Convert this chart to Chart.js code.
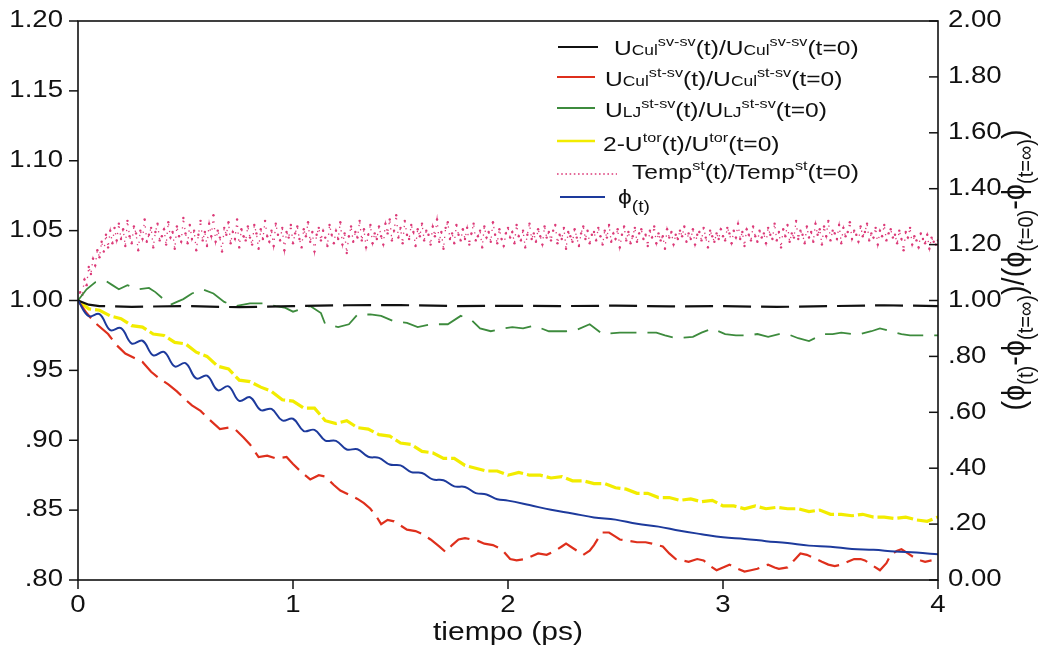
<!DOCTYPE html>
<html>
<head>
<meta charset="utf-8">
<script src="https://cdn.jsdelivr.net/npm/chart.js@4.4.1/dist/chart.umd.min.js"></script>
<style>
  html, body { margin: 0; padding: 0; background: #fff; }
  canvas { display: block; }
</style>
</head>
<body>
<canvas id="c" width="1050" height="651"></canvas>
<script>
// ---- Axis ticks -----------------------------------------------------------
const xTicks = [0, 1, 2, 3, 4];
const xTickLabels = ['0', '1', '2', '3', '4'];
const leftTicks = [1.20, 1.15, 1.10, 1.05, 1.00, 0.95, 0.90, 0.85, 0.80];
const leftTickLabels = ['1.20', '1.15', '1.10', '1.05', '1.00', '.95', '.90', '.85', '.80'];
const rightTicks = [2.00, 1.80, 1.60, 1.40, 1.20, 1.00, 0.80, 0.60, 0.40, 0.20, 0.00];
const rightTickLabels = ['2.00', '1.80', '1.60', '1.40', '1.20', '1.00', '.80', '.60', '.40', '.20', '0.00'];

// ---- U_Cul sv-sv (black) ----------------------------------------------------
const culSvSvT = [0, 0.05, 0.10, 0.25, 0.50, 0.75, 1.00, 1.25, 1.50, 1.75, 2.00, 2.25, 2.50, 2.75, 3.00, 3.25, 3.50, 3.75, 4.00];
const culSvSvV = [1.000, 0.997, 0.996, 0.9955, 0.996, 0.9952, 0.996, 0.9966, 0.9967, 0.996, 0.9962, 0.996, 0.9963, 0.9958, 0.996, 0.9954, 0.996, 0.9966, 0.996];

// ---- U_Cul st-sv (red) ------------------------------------------------------
const culStSvT = [0.00, 0.04, 0.08, 0.14, 0.18, 0.22, 0.26, 0.30, 0.34, 0.38, 0.42, 0.46, 0.50, 0.53, 0.57, 0.61, 0.66, 0.70, 0.73, 0.77,
  0.80, 0.84, 0.88, 0.92, 0.97, 1.00, 1.04, 1.08, 1.12, 1.15, 1.19, 1.22, 1.26, 1.30, 1.33, 1.36, 1.39, 1.41, 1.44, 1.47,
  1.50, 1.53, 1.57, 1.60, 1.64, 1.68, 1.71, 1.74, 1.77, 1.80, 1.83, 1.86, 1.89, 1.93, 1.97, 2.01, 2.04, 2.08, 2.11, 2.14,
  2.18, 2.22, 2.25, 2.27, 2.31, 2.35, 2.38, 2.40, 2.42, 2.44, 2.47, 2.50, 2.52, 2.56, 2.60, 2.64, 2.67, 2.72, 2.75, 2.78,
  2.81, 2.84, 2.88, 2.91, 2.94, 2.97, 3.00, 3.03, 3.07, 3.10, 3.13, 3.16, 3.19, 3.21, 3.24, 3.26, 3.30, 3.33, 3.36, 3.39,
  3.42, 3.46, 3.49, 3.52, 3.55, 3.58, 3.61, 3.64, 3.66, 3.70, 3.73, 3.76, 3.78, 3.81, 3.83, 3.86, 3.89, 3.92, 3.94, 3.97];
const culStSvV = [1.000, 0.991, 0.984, 0.976, 0.968, 0.962, 0.959, 0.956, 0.949, 0.944, 0.940, 0.935, 0.929, 0.925, 0.921, 0.915, 0.908, 0.909, 0.908, 0.902,
  0.897, 0.888, 0.889, 0.887, 0.888, 0.883, 0.877, 0.872, 0.875, 0.874, 0.868, 0.864, 0.861, 0.858, 0.855, 0.851, 0.845, 0.840, 0.843, 0.842,
  0.839, 0.836, 0.835, 0.833, 0.829, 0.824, 0.820, 0.825, 0.829, 0.830, 0.829, 0.828, 0.826, 0.825, 0.822, 0.815, 0.814, 0.815, 0.817, 0.819,
  0.818, 0.821, 0.824, 0.826, 0.822, 0.818, 0.821, 0.825, 0.830, 0.834, 0.834, 0.831, 0.829, 0.828, 0.827, 0.827, 0.826, 0.824, 0.819, 0.815,
  0.814, 0.813, 0.815, 0.814, 0.810, 0.807, 0.809, 0.811, 0.808, 0.806, 0.807, 0.808, 0.810, 0.811, 0.809, 0.808, 0.809, 0.814, 0.819, 0.818,
  0.816, 0.813, 0.811, 0.810, 0.811, 0.813, 0.815, 0.815, 0.814, 0.810, 0.807, 0.812, 0.818, 0.821, 0.822, 0.819, 0.816, 0.814, 0.813, 0.814];

// ---- U_LJ st-sv (green) -----------------------------------------------------
const ljStSvT = [0.00, 0.04, 0.08, 0.13, 0.16, 0.19, 0.23, 0.28, 0.33, 0.36, 0.39, 0.43, 0.46, 0.49, 0.53, 0.58, 0.63, 0.68, 0.73, 0.80,
  0.86, 0.92, 0.96, 1.00, 1.04, 1.08, 1.13, 1.15, 1.21, 1.26, 1.30, 1.36, 1.41, 1.47, 1.53, 1.58, 1.64, 1.72, 1.78, 1.83,
  1.87, 1.92, 1.98, 2.02, 2.07, 2.12, 2.19, 2.27, 2.32, 2.38, 2.44, 2.52, 2.61, 2.69, 2.73, 2.78, 2.86, 2.90, 2.95, 3.01,
  3.06, 3.12, 3.16, 3.21, 3.26, 3.30, 3.35, 3.40, 3.44, 3.47, 3.51, 3.55, 3.60, 3.64, 3.69, 3.73, 3.78, 3.83, 3.87, 3.91, 3.96, 4.00];
const ljStSvV = [1.000, 1.008, 1.013, 1.014, 1.011, 1.008, 1.011, 1.008, 1.009, 1.006, 1.002, 0.997, 0.999, 1.001, 1.005, 1.008, 1.005, 0.999, 0.996, 0.998,
  0.998, 0.996, 0.995, 0.992, 0.994, 0.996, 0.991, 0.983, 0.981, 0.983, 0.990, 0.990, 0.989, 0.985, 0.984, 0.981, 0.983, 0.983, 0.989, 0.986,
  0.980, 0.978, 0.980, 0.981, 0.980, 0.982, 0.978, 0.978, 0.979, 0.983, 0.976, 0.977, 0.977, 0.977, 0.975, 0.973, 0.974, 0.977, 0.980, 0.976,
  0.975, 0.975, 0.976, 0.974, 0.976, 0.976, 0.973, 0.971, 0.974, 0.976, 0.976, 0.977, 0.976, 0.976, 0.978, 0.980, 0.978, 0.976, 0.975, 0.975, 0.975, 0.975];

// ---- 2 - U_tor (yellow), sampled every 0.05 ps -------------------------------
const torStep = 0.05;
const torV = [1.000, 0.994, 0.993, 0.989, 0.987, 0.982, 0.981, 0.976, 0.975, 0.970, 0.969, 0.963, 0.960, 0.953, 0.951, 0.943, 0.942, 0.938, 0.935, 0.929,
  0.928, 0.923, 0.923, 0.914, 0.912, 0.914, 0.909, 0.908, 0.904, 0.903, 0.898, 0.897, 0.892, 0.891, 0.887, 0.887, 0.882, 0.880, 0.878, 0.878,
  0.875, 0.877, 0.875, 0.875, 0.873, 0.874, 0.871, 0.871, 0.869, 0.869, 0.866, 0.865, 0.862, 0.862, 0.859, 0.859, 0.857, 0.858, 0.856, 0.857,
  0.853, 0.853, 0.851, 0.853, 0.851, 0.852, 0.851, 0.851, 0.849, 0.850, 0.847, 0.847, 0.846, 0.847, 0.845, 0.845, 0.844, 0.845, 0.843, 0.842, 0.845];

// ---- Temp st (pink dots), sampled every 0.01 ps -----------------------------
const tempStep = 0.01;
const tempV = [
  1.000, 1.006, 1.004, 1.015, 1.011, 1.024, 1.019, 1.030, 1.025, 1.036, 1.031, 1.042, 1.035, 1.047, 1.038, 1.050, 1.041, 1.052, 1.043, 1.055,
  1.044, 1.051, 1.039, 1.057, 1.046, 1.041, 1.053, 1.048, 1.036, 1.050, 1.044, 1.058, 1.042, 1.047, 1.052, 1.038, 1.049, 1.055, 1.043, 1.046,
  1.051, 1.040, 1.056, 1.045, 1.049, 1.037, 1.053, 1.046, 1.042, 1.059, 1.048, 1.041, 1.054, 1.044, 1.050, 1.036, 1.047, 1.057, 1.043, 1.049,
  1.039, 1.055, 1.046, 1.061, 1.042, 1.050, 1.045, 1.035, 1.052, 1.047, 1.056, 1.041, 1.049, 1.044, 1.058, 1.038, 1.051, 1.046, 1.043, 1.053,
  1.045, 1.040, 1.054, 1.048, 1.037, 1.051, 1.044, 1.057, 1.046, 1.042, 1.050, 1.039, 1.055, 1.047, 1.043, 1.052, 1.036, 1.049, 1.045, 1.054,
  1.041, 1.048, 1.053, 1.044, 1.038, 1.051, 1.046, 1.056, 1.042, 1.049, 1.035, 1.047, 1.052, 1.043, 1.050, 1.045, 1.039, 1.054, 1.047, 1.041,
  1.050, 1.044, 1.056, 1.040, 1.048, 1.034, 1.046, 1.053, 1.042, 1.049, 1.045, 1.057, 1.043, 1.051, 1.038, 1.047, 1.054, 1.041, 1.048, 1.044,
  1.053, 1.046, 1.040, 1.055, 1.048, 1.058, 1.043, 1.050, 1.061, 1.045, 1.052, 1.041, 1.057, 1.047, 1.044, 1.054, 1.049, 1.039, 1.051, 1.046,
  1.055, 1.043, 1.050, 1.047, 1.040, 1.053, 1.046, 1.058, 1.042, 1.049, 1.037, 1.052, 1.056, 1.044, 1.048, 1.041, 1.054, 1.047, 1.043, 1.051,
  1.044, 1.052, 1.040, 1.048, 1.055, 1.043, 1.046, 1.050, 1.038, 1.053, 1.045, 1.049, 1.042, 1.056, 1.047, 1.041, 1.051, 1.044, 1.039, 1.048,
  1.052, 1.045, 1.049, 1.041, 1.054, 1.046, 1.043, 1.050, 1.038, 1.047, 1.055, 1.044, 1.048, 1.042, 1.051, 1.046, 1.040, 1.053, 1.045, 1.049,
  1.043, 1.050, 1.054, 1.041, 1.047, 1.044, 1.052, 1.037, 1.049, 1.046, 1.042, 1.051, 1.045, 1.039, 1.048, 1.053, 1.044, 1.050, 1.041, 1.047,
  1.049, 1.043, 1.052, 1.046, 1.040, 1.050, 1.045, 1.054, 1.042, 1.048, 1.044, 1.051, 1.038, 1.047, 1.053, 1.043, 1.049, 1.041, 1.046, 1.052,
  1.042, 1.048, 1.051, 1.044, 1.047, 1.039, 1.050, 1.045, 1.053, 1.041, 1.048, 1.043, 1.046, 1.037, 1.051, 1.045, 1.049, 1.040, 1.047, 1.044,
  1.050, 1.046, 1.053, 1.042, 1.048, 1.044, 1.051, 1.040, 1.047, 1.049, 1.043, 1.052, 1.045, 1.038, 1.050, 1.046, 1.042, 1.048, 1.044, 1.051,
  1.046, 1.043, 1.052, 1.048, 1.041, 1.050, 1.045, 1.055, 1.044, 1.049, 1.039, 1.051, 1.047, 1.043, 1.053, 1.046, 1.042, 1.050, 1.045, 1.048,
  1.041, 1.052, 1.047, 1.044, 1.055, 1.043, 1.049, 1.038, 1.051, 1.046, 1.054, 1.042, 1.048, 1.045, 1.057, 1.044, 1.050, 1.047, 1.041, 1.053,
  1.045, 1.049, 1.042, 1.055, 1.047, 1.051, 1.040, 1.053, 1.046, 1.057, 1.043, 1.050, 1.048, 1.044, 1.054, 1.041, 1.052, 1.046, 1.049, 1.056,
  1.044, 1.050, 1.047, 1.042, 1.053, 1.046, 1.049, 1.055, 1.043, 1.048, 1.045, 1.052, 1.040, 1.050, 1.046, 1.054, 1.043, 1.048, 1.051, 1.045,
  1.047, 1.041, 1.050, 1.044, 1.036, 1.049, 1.045, 1.052, 1.040, 1.046, 1.043, 1.038, 1.048, 1.044, 1.041, 1.047, 1.037, 1.045, 1.042, 1.040,
  1.043];

// ---- phi(t) normalised (blue, right axis) ------------------------------------
const phiT = [0.00, 0.05, 0.10, 0.15, 0.20, 0.25, 0.30, 0.35, 0.40, 0.45, 0.50, 0.55, 0.60, 0.65, 0.70, 0.75, 0.80, 0.85, 0.90, 0.95,
  1.00, 1.05, 1.10, 1.15, 1.20, 1.25, 1.30, 1.35, 1.40, 1.45, 1.50, 1.55, 1.60, 1.65, 1.70, 1.75, 1.80, 1.85, 1.90, 1.95,
  2.00, 2.10, 2.20, 2.30, 2.40, 2.50, 2.60, 2.70, 2.80, 2.90, 3.00, 3.10, 3.20, 3.30, 3.40, 3.50, 3.60, 3.70, 3.80, 3.90, 4.00];
const phiV = [1.000, 0.944, 0.951, 0.894, 0.901, 0.846, 0.856, 0.804, 0.816, 0.764, 0.776, 0.721, 0.731, 0.679, 0.693, 0.641, 0.654, 0.608, 0.612, 0.571,
  0.577, 0.533, 0.537, 0.499, 0.498, 0.467, 0.468, 0.441, 0.437, 0.413, 0.410, 0.386, 0.383, 0.360, 0.357, 0.335, 0.333, 0.311, 0.306, 0.289,
  0.284, 0.268, 0.251, 0.238, 0.224, 0.216, 0.201, 0.191, 0.176, 0.164, 0.153, 0.147, 0.139, 0.132, 0.123, 0.119, 0.111, 0.108, 0.102, 0.098, 0.092];

// ---- Helpers ----------------------------------------------------------------
const FONT = '"Liberation Sans", Arial, "DejaVu Sans", sans-serif';
const TEXT_STRETCH = 1.2;   // the lettering in this figure is drawn wide
const INK = '#111';

const onGrid = (values, step) => values.map((y, i) => ({ x: +(i * step).toFixed(3), y }));
const pairs = (ts, vs) => ts.map((x, i) => ({ x, y: vs[i] }));

const datasets = [
  { label: 'phi', data: pairs(phiT, phiV), yAxisID: 'y1',
    borderColor: '#1d3a9c', borderWidth: 2, tension: 0.4, pointRadius: 0 },
  { label: 'culSvSv', data: pairs(culSvSvT, culSvSvV), yAxisID: 'y',
    borderColor: '#111111', borderWidth: 2.2, borderDash: [28, 10], pointRadius: 0 },
  { label: 'culStSv', data: pairs(culStSvT, culStSvV), yAxisID: 'y',
    borderColor: '#de2f1c', borderWidth: 2.2, borderDash: [22, 8], pointRadius: 0 },
  { label: 'ljStSv', data: pairs(ljStSvT, ljStSvV), yAxisID: 'y',
    borderColor: '#3d8b3d', borderWidth: 1.8, borderDash: [26, 11], pointRadius: 0 },
  { label: 'tor', data: onGrid(torV, torStep), yAxisID: 'y',
    borderColor: '#f2ec00', borderWidth: 3.2, borderDash: [16, 4], pointRadius: 0 },
  { label: 'temp', data: onGrid(tempV, tempStep), yAxisID: 'y',
    borderColor: '#dc3a78', borderWidth: 1.3, borderDash: [1.3, 5.5],
    pointRadius: 1.2, pointBorderWidth: 0, pointBackgroundColor: '#dc3a78' }
];

// Rich text: segments of [text, kind]; n = normal, l = small on baseline,
// p = superscript, b = subscript
function richWidth(ctx, segs, sizes) {
  let w = 0;
  for (const [s, k] of segs) {
    ctx.font = sizes[k] + 'px ' + FONT;
    w += ctx.measureText(s).width;
  }
  return w;
}
function drawRich(ctx, segs, sizes, shifts) {
  let x = 0;
  for (const [s, k] of segs) {
    ctx.font = sizes[k] + 'px ' + FONT;
    ctx.fillText(s, x, shifts[k]);
    x += ctx.measureText(s).width;
  }
}
function drawWide(ctx, str, x, y, size, align) {
  ctx.save();
  ctx.font = size + 'px ' + FONT;
  const w = ctx.measureText(str).width * TEXT_STRETCH;
  const x0 = align === 'right' ? x - w : align === 'center' ? x - w / 2 : x;
  ctx.translate(x0, y);
  ctx.scale(TEXT_STRETCH, 1);
  ctx.textAlign = 'left';
  ctx.textBaseline = 'middle';
  ctx.fillStyle = INK;
  ctx.fillText(str, 0, 0);
  ctx.restore();
}

const legendRows = [
  { ds: 1, y: 47, x0: 558, x1: 598, tx: 614, base: 55,
    segs: [['U', 'n'], ['Cul', 'l'], ['sv-sv', 'p'], ['(t)/U', 'n'], ['Cul', 'l'], ['sv-sv', 'p'], ['(t=0)', 'n']] },
  { ds: 2, y: 77, x0: 557, x1: 595, tx: 605, base: 86,
    segs: [['U', 'n'], ['Cul', 'l'], ['st-sv', 'p'], ['(t)/U', 'n'], ['Cul', 'l'], ['st-sv', 'p'], ['(t=0)', 'n']] },
  { ds: 3, y: 108, x0: 557, x1: 595, tx: 605, base: 117,
    segs: [['U', 'n'], ['LJ', 'l'], ['st-sv', 'p'], ['(t)/U', 'n'], ['LJ', 'l'], ['st-sv', 'p'], ['(t=0)', 'n']] },
  { ds: 4, y: 141, x0: 557, x1: 595, tx: 603, base: 151,
    segs: [['2-U', 'n'], ['tor', 'p'], ['(t)/U', 'n'], ['tor', 'p'], ['(t=0)', 'n']] },
  { ds: 5, y: 174, x0: 557, x1: 617, tx: 632, base: 179,
    segs: [['Temp', 'n'], ['st', 'p'], ['(t)/Temp', 'n'], ['st', 'p'], ['(t=0)', 'n']] },
  { ds: 0, y: 197, x0: 560, x1: 605, tx: 618, base: 204,
    segs: [['\u03D5', 'n'], ['(t)', 'b']] }
];

const decorations = {
  id: 'decorations',
  afterDatasetsDraw(chart) {
    const { ctx, chartArea: a, scales } = chart;
    ctx.save();
    // frame
    ctx.strokeStyle = INK;
    ctx.lineWidth = 1.6;
    ctx.setLineDash([]);
    ctx.strokeRect(a.left, a.top, a.right - a.left, a.bottom - a.top);

    // left ticks (outward) + labels
    ctx.lineWidth = 1.5;
    leftTicks.forEach((v, i) => {
      const y = scales.y.getPixelForValue(v);
      ctx.beginPath(); ctx.moveTo(a.left - 9, y); ctx.lineTo(a.left, y); ctx.stroke();
      drawWide(ctx, leftTickLabels[i], a.left - 15, y, 23, 'right');
    });
    // right ticks (inward) + labels
    rightTicks.forEach((v, i) => {
      const y = scales.y1.getPixelForValue(v);
      ctx.beginPath(); ctx.moveTo(a.right - 9, y); ctx.lineTo(a.right, y); ctx.stroke();
      drawWide(ctx, rightTickLabels[i], a.right + 10, y, 23, 'left');
    });
    // bottom ticks (outward) + labels
    xTicks.forEach((v, i) => {
      const x = scales.x.getPixelForValue(v);
      ctx.beginPath(); ctx.moveTo(x, a.bottom); ctx.lineTo(x, a.bottom + 9); ctx.stroke();
      drawWide(ctx, xTickLabels[i], x, 606, 23, 'center');
    });
    drawWide(ctx, 'tiempo (ps)', (a.left + a.right) / 2, 633, 25, 'center');

    // right axis title
    const tSizes = { n: 29, b: 20 };
    const tShift = { n: 0, b: 8 };
    const tSegs = [['(\u03D5', 'n'], ['(t)', 'b'], ['-\u03D5', 'n'], ['(t=\u221E)', 'b'], [')/(\u03D5', 'n'],
      ['(t=0)', 'b'], ['-\u03D5', 'n'], ['(t=\u221E)', 'b'], [')', 'n']];
    const tw = richWidth(ctx, tSegs, tSizes);
    ctx.save();
    ctx.translate(1024, 270);
    ctx.rotate(-Math.PI / 2);
    ctx.scale(1, 1.1);
    ctx.translate(-tw / 2, 0);
    ctx.fillStyle = INK;
    ctx.textAlign = 'left';
    ctx.textBaseline = 'alphabetic';
    drawRich(ctx, tSegs, tSizes, tShift);
    ctx.restore();

    // legend
    const lSizes = { n: 20.5, l: 14.5, p: 13.5, b: 16 };
    const lShift = { n: 0, l: 0, p: -9, b: 8 };
    legendRows.forEach(r => {
      const d = chart.data.datasets[r.ds];
      ctx.save();
      ctx.strokeStyle = d.borderColor;
      ctx.lineWidth = r.ds === 5 ? 1.6 : Math.min(d.borderWidth, 2.4);
      ctx.setLineDash(r.ds === 5 ? [1.6, 2.6] : []);
      ctx.beginPath(); ctx.moveTo(r.x0, r.y); ctx.lineTo(r.x1, r.y); ctx.stroke();
      ctx.restore();
      ctx.save();
      ctx.translate(r.tx, r.base);
      ctx.scale(TEXT_STRETCH, 1);
      ctx.fillStyle = INK;
      ctx.textAlign = 'left';
      ctx.textBaseline = 'alphabetic';
      drawRich(ctx, r.segs, lSizes, lShift);
      ctx.restore();
    });
    ctx.restore();
  }
};

new Chart(document.getElementById('c'), {
  type: 'line',
  data: { datasets },
  options: {
    responsive: false,
    animation: false,
    devicePixelRatio: 1,
    layout: { padding: { top: 21, left: 0, right: 0, bottom: 0 } },
    plugins: { legend: { display: false }, tooltip: { enabled: false } },
    scales: {
      x: { type: 'linear', min: 0, max: 4,
        ticks: { display: false, stepSize: 1 }, grid: { display: false }, border: { display: false },
        afterFit(s) { s.height = 71; } },
      y: { position: 'left', min: 0.8, max: 1.2,
        ticks: { display: false, stepSize: 0.05 }, grid: { display: false }, border: { display: false },
        afterFit(s) { s.width = 78; } },
      y1: { position: 'right', min: 0, max: 2,
        ticks: { display: false, stepSize: 0.2 }, grid: { display: false }, border: { display: false },
        afterFit(s) { s.width = 112; } }
    }
  },
  plugins: [decorations]
});
</script>
</body>
</html>
